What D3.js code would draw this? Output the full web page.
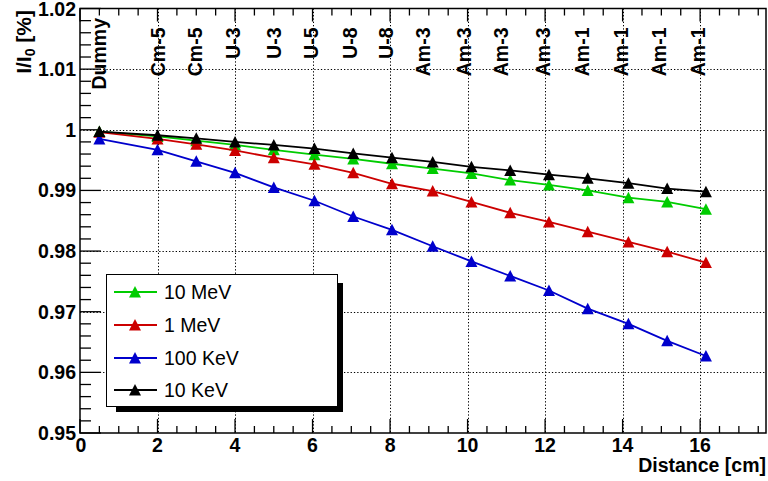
<!DOCTYPE html>
<html>
<head>
<meta charset="utf-8">
<script src="https://cdn.jsdelivr.net/npm/d3@7"></script>
<style>
  body { margin: 0; background: #fff; }
  svg { display: block; }
  text { font-family: "Liberation Sans", Arial, Helvetica, sans-serif; }
</style>
</head>
<body>
<svg id="chart" width="768" height="481"></svg>
<script>
// ---- data ----
const distances = [0.5, 2, 3, 4, 5, 6.05, 7.05, 8.05, 9.1, 10.1, 11.1, 12.1, 13.1, 14.15, 15.15, 16.15];
const seriesNames = ["10 MeV", "1 MeV", "100 KeV", "10 KeV"];
const values10MeV  = [0.9997, 0.9989, 0.9982, 0.9975, 0.9967, 0.9959, 0.9952, 0.9944, 0.9936, 0.9928, 0.9917, 0.9909, 0.9900, 0.9888, 0.9881, 0.9869];
const values1MeV   = [0.9996, 0.9985, 0.9976, 0.9966, 0.9954, 0.9943, 0.9929, 0.9911, 0.9899, 0.9881, 0.9863, 0.9848, 0.9832, 0.9815, 0.9799, 0.9781];
const values100KeV = [0.9985, 0.9967, 0.9948, 0.9929, 0.9905, 0.9883, 0.9857, 0.9835, 0.9808, 0.9783, 0.9759, 0.9735, 0.9705, 0.9680, 0.9652, 0.9627];
const values10KeV  = [0.9997, 0.9991, 0.9986, 0.9980, 0.9975, 0.9969, 0.9961, 0.9954, 0.9947, 0.9939, 0.9933, 0.9926, 0.9920, 0.9912, 0.9903, 0.9898];
const sampleLabels = ["Dummy", "Cm-5", "Cm-5", "U-3", "U-3", "U-5", "U-8", "U-8", "Am-3", "Am-3", "Am-3", "Am-3", "Am-1", "Am-1", "Am-1", "Am-1"];
const sampleLabelX = [0.5, 2, 2.97, 3.95, 5, 5.96, 6.97, 7.9, 8.85, 9.9, 10.85, 11.95, 12.95, 13.95, 14.95, 15.95];
const xTicks = [0, 2, 4, 6, 8, 10, 12, 14, 16];
const yTicks = [0.95, 0.96, 0.97, 0.98, 0.99, 1, 1.01, 1.02];
const yTickLabels = ["0.95", "0.96", "0.97", "0.98", "0.99", "1", "1.01", "1.02"];
const xDomain = [0, 17.7];
const yDomain = [0.95, 1.02];

const colors = ["#00cc00", "#cc0000", "#0000cc", "#000000"];
const allValues = [values10MeV, values1MeV, values100KeV, values10KeV];

// ---- layout ----
const svg = d3.select("#chart");
const L = 80, R = 766, T = 8.5, B = 433;
const x = d3.scaleLinear().domain(xDomain).range([L, R]);
const y = d3.scaleLinear().domain(yDomain).range([B, T]);

svg.append("rect").attr("width", 768).attr("height", 481).attr("fill", "#fff");

// grid
const grid = svg.append("g").attr("stroke", "#000").attr("stroke-width", 1).attr("stroke-dasharray", "1.3,2");
grid.selectAll("line.gx").data(xTicks.filter(d => d > 0)).enter().append("line")
  .attr("x1", d => Math.round(x(d)) + 0.5).attr("x2", d => Math.round(x(d)) + 0.5)
  .attr("y1", T).attr("y2", B);
grid.selectAll("line.gy").data(yTicks.filter(d => d > 0.95 && d < 1.02)).enter().append("line")
  .attr("y1", d => Math.round(y(d)) + 0.5).attr("y2", d => Math.round(y(d)) + 0.5)
  .attr("x1", L).attr("x2", R);

// axes (ticks inward)
const xMinor = d3.range(0, 17.51, 0.5);
const yMinor = d3.range(0, 36).map(i => 0.95 + i * 0.002).filter(v => v <= 1.0201);
const tk = svg.append("g").attr("stroke", "#000").attr("stroke-width", 1.3);
tk.selectAll("line.xb").data(xMinor).enter().append("line")
  .attr("x1", d => x(d)).attr("x2", d => x(d))
  .attr("y1", B).attr("y2", d => B - (Math.abs(d / 2 - Math.round(d / 2)) < 1e-6 ? 14 : 7));
tk.selectAll("line.xt").data(xMinor).enter().append("line")
  .attr("x1", d => x(d)).attr("x2", d => x(d))
  .attr("y1", T).attr("y2", d => T + (Math.abs(d / 2 - Math.round(d / 2)) < 1e-6 ? 13 : 7));
tk.selectAll("line.yl").data(yMinor).enter().append("line")
  .attr("y1", d => y(d)).attr("y2", d => y(d))
  .attr("x1", L).attr("x2", (d, i) => L + (i % 5 === 0 ? 21 : 11));

// frame
svg.append("rect").attr("x", L).attr("y", T).attr("width", R - L).attr("height", B - T)
  .attr("fill", "none").attr("stroke", "#000").attr("stroke-width", 1.5);

// tick labels
svg.selectAll("text.yt").data(yTicks).enter().append("text")
  .attr("x", 76).attr("y", d => y(d)).attr("dy", "0.36em")
  .attr("text-anchor", "end").attr("font-size", 19.5).attr("font-weight", "bold")
  .text((d, i) => yTickLabels[i]);
svg.selectAll("text.xt").data(xTicks).enter().append("text")
  .attr("x", d => x(d) + (d === 0 ? 1 : 0)).attr("y", 452)
  .attr("text-anchor", "middle").attr("font-size", 19.5).attr("font-weight", "bold")
  .text(d => d);

// axis titles
svg.append("text").attr("x", 766).attr("y", 472).attr("text-anchor", "end")
  .attr("font-size", 19.5).attr("font-weight", "bold").text("Distance [cm]");
const yt = svg.append("text").attr("transform", "translate(31,10) rotate(-90)")
  .attr("text-anchor", "end").attr("font-size", 21).attr("font-weight", "bold");
yt.append("tspan").text("I/I");
yt.append("tspan").attr("font-size", 14).attr("dy", 4).text("0");
yt.append("tspan").attr("dy", -4).text(" [%]");

// sample labels (rotated)
svg.selectAll("text.sl").data(sampleLabels).enter().append("text")
  .attr("transform", (d, i) => `translate(${x(sampleLabelX[i])},${i === 0 ? 18 : 27.5}) rotate(-90)`)
  .attr("text-anchor", "end").attr("dy", "0.36em")
  .attr("font-size", 19.5).attr("font-weight", "bold")
  .text(d => d);

// series
const tri = "M0,-6L6,5.5L-6,5.5Z";
const line = d3.line().x((d, i) => x(distances[i])).y(d => y(d));
allValues.forEach((vals, si) => {
  const g = svg.append("g");
  g.append("path").datum(vals).attr("d", line).attr("fill", "none")
    .attr("stroke", colors[si]).attr("stroke-width", 1.8);
  g.selectAll("path.m").data(vals).enter().append("path")
    .attr("d", tri).attr("fill", colors[si])
    .attr("transform", (d, i) => `translate(${x(distances[i])},${y(d)})`);
});

// legend
const lg = svg.append("g");
lg.append("rect").attr("x", 116).attr("y", 283).attr("width", 227).attr("height", 129).attr("fill", "#000");
lg.append("rect").attr("x", 106.5).attr("y", 274.5).attr("width", 231).attr("height", 132)
  .attr("fill", "#fff").attr("stroke", "#000").attr("stroke-width", 1);
const rowY = [292, 325, 358, 390];
seriesNames.forEach((name, i) => {
  lg.append("line").attr("x1", 114).attr("x2", 157).attr("y1", rowY[i]).attr("y2", rowY[i])
    .attr("stroke", colors[i]).attr("stroke-width", 1.8);
  lg.append("path").attr("d", tri).attr("fill", colors[i]).attr("transform", `translate(135,${rowY[i]})`);
  lg.append("text").attr("x", 164).attr("y", rowY[i]).attr("dy", "0.36em")
    .attr("font-size", 19.5).text(name);
});
</script>
</body>
</html>
